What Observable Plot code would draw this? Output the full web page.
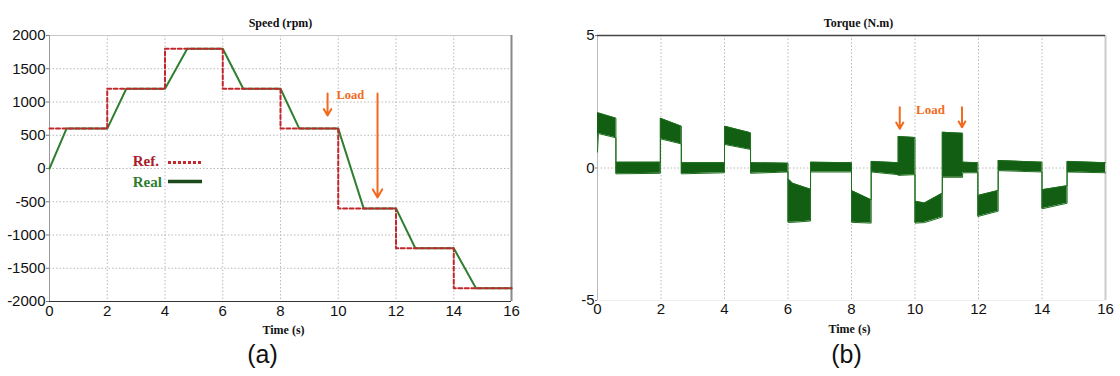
<!DOCTYPE html>
<html>
<head>
<meta charset="utf-8">
<script src="https://cdn.jsdelivr.net/npm/d3@7"></script>
<script src="https://cdn.jsdelivr.net/npm/@observablehq/plot@0.6"></script>
<style>
  html, body { margin: 0; padding: 0; background: #fff; }
  #wrap { position: relative; width: 1120px; height: 376px; overflow: hidden; background: #fff; }
  #left, #right { position: absolute; top: 0; }
  #left { left: 0; }
  #right { left: 560px; }
</style>
</head>
<body>
<div id="wrap"><div id="left"></div><div id="right"></div></div>
<script>
// ---------- data ----------
const timeTicks = [0, 2, 4, 6, 8, 10, 12, 14, 16];
const speedTicks = [-2000, -1500, -1000, -500, 0, 500, 1000, 1500, 2000];
const torqueTicks = [-5, 0, 5];

// Speed reference (step, value holds until next time)
const refTime  = [0, 2, 4, 6, 8, 10, 12, 14, 16];
const refSpeed = [600, 1200, 1800, 1200, 600, -600, -1200, -1800, -1800];

// Measured speed
const realTime  = [0, 0.59, 2, 2.66, 4, 4.77, 6, 6.71, 8, 8.65, 10, 10.88, 12, 12.67, 14, 14.77, 16];
const realSpeed = [0, 600, 600, 1200, 1200, 1800, 1800, 1200, 1200, 600, 600, -600, -600, -1200, -1200, -1800, -1800];

// Torque ripple envelope (upper / lower edge of the noisy band)
const torqueTime  = [0, 0.03, 0.58, 0.58, 1.98, 1.98, 2.64, 2.64, 4.0, 4.0, 4.82, 4.82, 6.0, 6.0, 6.15, 6.71, 6.71, 8.0, 8.0, 8.62, 8.62, 9.47, 9.47, 10.0, 10.0, 10.3, 10.86, 10.86, 11.5, 11.5, 11.98, 11.98, 12.62, 12.62, 14.0, 14.0, 14.79, 14.79, 16.0];
const torqueUpper = [2.08, 2.08, 1.88, 0.22, 0.22, 1.88, 1.58, 0.20, 0.20, 1.58, 1.33, 0.20, 0.18, -0.40, -0.58, -0.80, 0.22, 0.20, -0.85, -1.20, 0.25, 0.20, 1.19, 1.15, -1.25, -1.32, -0.95, 1.35, 1.31, 0.22, 0.20, -1.04, -0.85, 0.28, 0.22, -0.82, -0.67, 0.25, 0.20];
const torqueLower = [0.60, 1.30, 1.14, -0.22, -0.20, 1.10, 0.91, -0.22, -0.18, 0.89, 0.70, -0.20, -0.15, -2.05, -2.05, -2.00, -0.15, -0.15, -2.05, -2.08, -0.15, -0.25, -0.28, -0.25, -2.08, -2.06, -1.85, -0.35, -0.35, -0.18, -0.18, -1.83, -1.63, -0.10, -0.15, -1.54, -1.33, -0.15, -0.18];

// Annotations (data units)
const speedLoadArrows = [{t: 9.63, from: 1128, to: 797}, {t: 11.36, from: 1128, to: -436}];
const speedLoadLabel = [{t: 10.42, v: 1098, text: "Load"}];
const torqueLoadArrows = [{t: 9.52, from: 2.29, to: 1.48}, {t: 11.48, from: 2.29, to: 1.54}];
const torqueLoadLabel = [{t: 10.49, v: 2.2, text: "Load"}];
const legendText = [{t: 2.88, v: 105, text: "Ref.", color: "#a8202a"}, {t: 2.88, v: -211, text: "Real", color: "#2e7d32"}];
const legendLines = [{t1: 4.12, t2: 5.30, v: 90, key: "ref"}, {t1: 4.12, t2: 5.30, v: -196, key: "real"}];

// ---------- build tables ----------
const refData = refTime.map((t, i) => ({t, v: refSpeed[i]}));
const realData = realTime.map((t, i) => ({t, v: realSpeed[i]}));
const torqueData = torqueTime.map((t, i) => ({t, hi: torqueUpper[i], lo: torqueLower[i]}));

const SANS = "'Liberation Sans', Arial, sans-serif";
const SERIF = "'Liberation Serif', 'Times New Roman', serif";
const ORANGE = "#f26a1e";
const GRID = {stroke: "#b8b8b8", strokeOpacity: 1, strokeDasharray: "1.5,2"};
const fmt = d => String(d);

// ---------- Speed chart ----------
const speed = Plot.plot({
  width: 560, height: 376,
  marginLeft: 49, marginRight: 49, marginTop: 35, marginBottom: 75,
  x: {domain: [0, 16]},
  y: {domain: [-2000, 2000]},
  style: {fontFamily: SANS, fontSize: "15px", color: "#111", background: "#fff", overflow: "visible"},
  marks: [
    Plot.gridX(timeTicks.slice(1, -1), GRID),
    Plot.gridY(speedTicks.slice(1, -1), GRID),
    Plot.ruleY([2000], {stroke: "#c8c8c8"}),
    Plot.ruleX([0], {stroke: "#999"}),
    Plot.ruleX([16], {stroke: "#888", strokeWidth: 2}),
    Plot.ruleY([-2000], {stroke: "#333"}),
    Plot.line(realData, {x: "t", y: "v", stroke: "#2f7f2f", strokeWidth: 2}),
    Plot.line(refData, {x: "t", y: "v", curve: "step-after", stroke: "#c1272d", strokeWidth: 2, strokeDasharray: "4,2.5"}),
    Plot.text(legendText, {x: "t", y: "v", text: "text", fill: "color", textAnchor: "start", fontFamily: SERIF, fontWeight: "bold", fontSize: 15}),
    Plot.ruleY(legendLines.filter(d => d.key === "ref"), {x1: "t1", x2: "t2", y: "v", stroke: "#c1272d", strokeWidth: 3, strokeDasharray: "3,2"}),
    Plot.ruleY(legendLines.filter(d => d.key === "real"), {x1: "t1", x2: "t2", y: "v", stroke: "#1d4a1d", strokeWidth: 3.5}),
    Plot.arrow(speedLoadArrows, {x1: "t", x2: "t", y1: "from", y2: "to", stroke: ORANGE, strokeWidth: 2, headLength: 7}),
    Plot.text(speedLoadLabel, {x: "t", y: "v", text: "text", fill: ORANGE, fontFamily: SERIF, fontWeight: "bold", fontSize: 12.5}),
    Plot.axisY(speedTicks, {tickSize: 3, tickPadding: 1, label: null, stroke: "#777", tickFormat: fmt}),
    Plot.axisX(timeTicks, {tickSize: 0, tickPadding: 4, label: null, tickFormat: fmt}),
    Plot.text(["Speed (rpm)"], {text: d => d, frameAnchor: "top", dy: -17, fontFamily: SERIF, fontWeight: "bold", fontSize: 12, fill: "#111"}),
    Plot.text(["Time (s)"], {text: d => d, frameAnchor: "bottom", dy: 32, dx: 3, fontFamily: SERIF, fontWeight: "bold", fontSize: 12, fill: "#111"}),
    Plot.text(["(a)"], {text: d => d, frameAnchor: "bottom", dy: 61, dx: -18, fontFamily: SANS, fontSize: 25, fill: "#111"})
  ]
});
document.getElementById("left").appendChild(speed);

// ---------- Torque chart ----------
const torque = Plot.plot({
  width: 560, height: 376,
  marginLeft: 37, marginRight: 15, marginTop: 35, marginBottom: 76,
  x: {domain: [0, 16]},
  y: {domain: [-5, 5]},
  style: {fontFamily: SANS, fontSize: "15px", color: "#111", background: "#fff", overflow: "visible"},
  marks: [
    Plot.gridX(timeTicks.slice(1, -1), GRID),
    Plot.gridY([0], GRID),
    Plot.ruleX([0], {stroke: "#bbb"}),
    Plot.ruleX([16], {stroke: "#ccc", strokeWidth: 2}),
    Plot.ruleY([-5], {stroke: "#eee"}),
    Plot.ruleY([5], {stroke: "#444", strokeWidth: 1.5}),
    Plot.areaY(torqueData, {x: "t", y1: "lo", y2: "hi", fill: "#125e12"}),
    Plot.line(torqueData, {x: "t", y: "hi", stroke: "#1c6e1c", strokeWidth: 1}),
    Plot.line(torqueData, {x: "t", y: "lo", stroke: "#1c6e1c", strokeWidth: 1}),
    Plot.arrow(torqueLoadArrows, {x1: "t", x2: "t", y1: "from", y2: "to", stroke: ORANGE, strokeWidth: 2, headLength: 7}),
    Plot.text(torqueLoadLabel, {x: "t", y: "v", text: "text", fill: ORANGE, fontFamily: SERIF, fontWeight: "bold", fontSize: 13}),
    Plot.axisY(torqueTicks, {tickSize: 2, tickPadding: 1, label: null, stroke: "#777", tickFormat: fmt}),
    Plot.axisX(timeTicks, {tickSize: 0, tickPadding: 3, label: null, tickFormat: fmt}),
    Plot.text(["Torque (N.m)"], {text: d => d, frameAnchor: "top", dy: -17, dx: 7, fontFamily: SERIF, fontWeight: "bold", fontSize: 12, fill: "#111"}),
    Plot.text(["Time (s)"], {text: d => d, frameAnchor: "bottom", dy: 32, dx: -2, fontFamily: SERIF, fontWeight: "bold", fontSize: 12, fill: "#111"}),
    Plot.text(["(b)"], {text: d => d, frameAnchor: "bottom", dy: 62, dx: -5, fontFamily: SANS, fontSize: 25, fill: "#111"})
  ]
});
document.getElementById("right").appendChild(torque);
</script>
</body>
</html>
